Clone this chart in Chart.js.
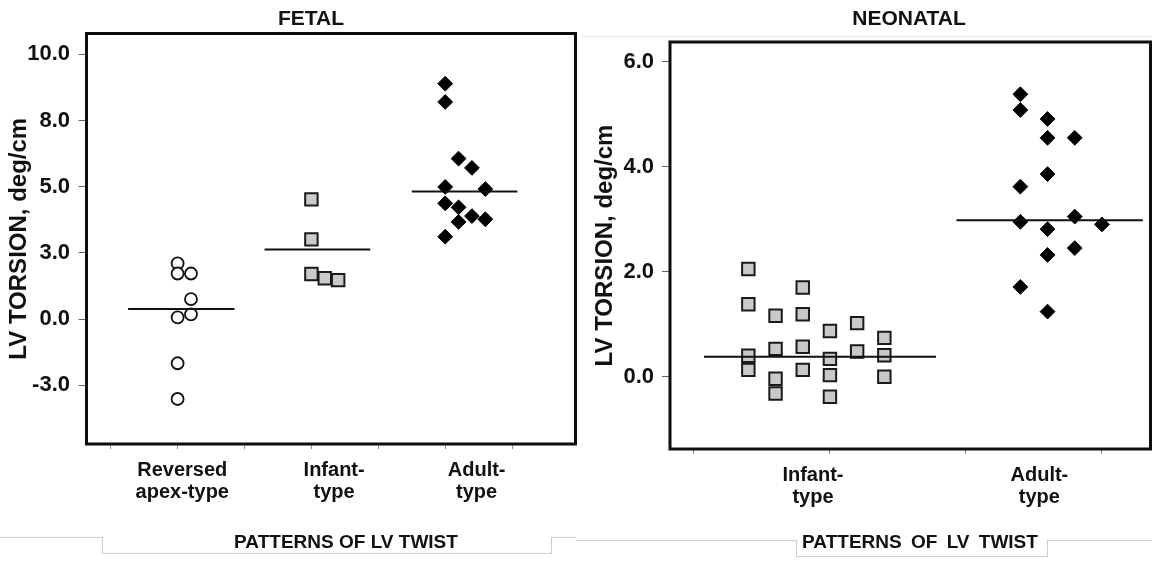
<!DOCTYPE html>
<html>
<head>
<meta charset="utf-8">
<title>LV torsion - fetal vs neonatal</title>
<script src="https://cdn.jsdelivr.net/npm/chart.js@4.4.1/dist/chart.umd.min.js"></script>
<style>
  body { margin: 0; background: #fff; font-family: 'Liberation Sans', Arial, sans-serif; color: #111; }
  #page { position: relative; width: 1152px; height: 563px; overflow: hidden; }
  canvas { position: absolute; top: 0; }
  .panel-title, .axis-note { position: absolute; width: 300px; text-align: center; font-weight: bold; line-height: 1; white-space: nowrap; }
  .panel-title { font-size: 21px; top: 7px; }
  .axis-note { font-size: 19px; top: 532px; }
  .rule { position: absolute; border: 0 solid #cdcdcd; }
</style>
</head>
<body>
<div id="page">
  <!-- faint frame pieces around the x titles -->
  <div class="rule" style="left:582px; top:36px; width:570px; border-top-width:1px; border-color:#e2e2e2;"></div>
  <div class="rule" style="left:0; top:537px; width:102px; border-top-width:1px;"></div>
  <div class="rule" style="left:102px; top:537px; width:448px; height:16px; border-width:0 1px 1px 1px;"></div>
  <div class="rule" style="left:551px; top:537px; width:25px; border-top-width:1px;"></div>
  <div class="rule" style="left:576px; top:540px; width:220px; border-top-width:1px;"></div>
  <div class="rule" style="left:796px; top:540px; width:250px; height:16px; border-width:0 1px 1px 1px;"></div>
  <div class="rule" style="left:1047px; top:540px; width:105px; border-top-width:1px;"></div>

  <canvas id="fetal" width="580" height="563" style="left:0;"></canvas>
  <canvas id="neonatal" width="572" height="563" style="left:580px;"></canvas>

  <div class="panel-title" style="left:161px;">FETAL</div>
  <div class="panel-title" style="left:759px;">NEONATAL</div>
  <div class="axis-note" style="left:196px;">PATTERNS OF LV TWIST</div>
  <div class="axis-note" style="left:770px; word-spacing:4px;">PATTERNS OF LV TWIST</div>
</div>

<script>
const FONT = "'Liberation Sans', Arial, sans-serif";

// ---- FETAL ----
const fetalCategories = [['Reversed', 'apex-type'], ['Infant-', 'type'], ['Adult-', 'type']];
const fetalCategoryPos = [1.07, 3.34, 5.47];
const fetalXTicks = [0, 1, 2, 3, 4, 5, 6];
const fetalYTicks = [-2.5, 0, 2.5, 5, 7.5, 10];
const fetalYLabels = ['-3.0', '0.0', '3.0', '5.0', '8.0', '10.0'];

const fetalReversedX = [1, 1, 1.2, 1.2, 1, 1.2, 1, 1];
const fetalReversedY = [2.10, 1.72, 1.72, 0.75, 0.06, 0.18, -1.67, -3.02];
const fetalInfantX = [3, 3, 3, 3.2, 3.4];
const fetalInfantY = [4.52, 3.01, 1.70, 1.54, 1.47];
const fetalAdultX = [5, 5, 5.2, 5.4, 5, 5.6, 5, 5.2, 5.4, 5.6, 5.2, 5];
const fetalAdultY = [8.89, 8.20, 6.06, 5.71, 4.99, 4.91, 4.37, 4.22, 3.89, 3.77, 3.67, 3.11];

const fetalMedians = [0.38, 2.63, 4.82];
const fetalMedianFrom = [0.26, 2.30, 4.50];
const fetalMedianTo = [1.85, 3.88, 6.08];

// ---- NEONATAL ----
const neoCategories = [['Infant-', 'type'], ['Adult-', 'type']];
const neoCategoryPos = [0.875, 2.54];
const neoXTicks = [0, 1, 2, 3];
const neoYTicks = [0, 2, 4, 6];
const neoYLabels = ['0.0', '2.0', '4.0', '6.0'];

const neoInfantX = [0.4, 0.4, 0.4, 0.4, 0.6, 0.6, 0.6, 0.6, 0.8, 0.8, 0.8, 0.8, 1.0, 1.0, 1.0, 1.0, 1.2, 1.2, 1.4, 1.4, 1.4];
const neoInfantY = [2.05, 1.38, 0.40, 0.13, 1.16, 0.53, -0.04, -0.32, 1.70, 1.19, 0.57, 0.13, 0.87, 0.34, 0.03, -0.38, 1.02, 0.48, 0.74, 0.41, 0.00];
const neoAdultX = [2.4, 2.4, 2.4, 2.4, 2.4, 2.6, 2.6, 2.6, 2.6, 2.6, 2.6, 2.8, 2.8, 2.8, 3.0];
const neoAdultY = [5.38, 5.08, 3.62, 2.95, 1.71, 4.91, 4.55, 3.86, 2.81, 2.32, 1.24, 4.55, 3.05, 2.45, 2.90];

const neoMedians = [0.38, 2.98];
const neoMedianFrom = [0.074, 1.93];
const neoMedianTo = [1.78, 3.30];

const markers = {
  circle: { pointStyle: 'circle', pointRadius: 6, pointBackgroundColor: '#fff', pointBorderColor: '#111', pointBorderWidth: 1.8 },
  square: { pointStyle: 'rect', pointRadius: 8.8, pointBackgroundColor: '#c9c9c9', pointBorderColor: '#1a1a1a', pointBorderWidth: 2 },
  diamond: { pointStyle: 'rectRot', pointRadius: 7.4, pointBackgroundColor: '#000', pointBorderColor: '#000', pointBorderWidth: 1 }
};

const boxFrame = {
  id: 'boxFrame',
  afterDraw(chart) {
    const { ctx, chartArea: a } = chart;
    ctx.save();
    ctx.strokeStyle = '#0d0d0d';
    ctx.lineWidth = 3;
    ctx.strokeRect(a.left, a.top, a.right - a.left, a.bottom - a.top);
    ctx.restore();
  }
};

const toPoints = (xs, ys) => xs.map((x, i) => ({ x, y: ys[i] }));

function makePanel(id, p) {
  // median bars first so they sit on top of the markers
  const medianSets = p.medians.map((m, i) => ({
    data: [{ x: p.medianFrom[i], y: m }, { x: p.medianTo[i], y: m }],
    showLine: true,
    borderColor: '#111',
    borderWidth: 2,
    pointRadius: 0
  }));
  const groupSets = p.groups.map(g => ({ data: toPoints(g.x, g.y), showLine: false, ...markers[g.marker] }));

  new Chart(document.getElementById(id), {
    type: 'scatter',
    data: { datasets: [...medianSets, ...groupSets] },
    plugins: [boxFrame],
    options: {
      responsive: false,
      animation: false,
      events: [],
      layout: { autoPadding: false, padding: { top: p.padTop, right: p.padRight, left: 0, bottom: 0 } },
      plugins: { legend: { display: false }, tooltip: { enabled: false } },
      scales: {
        x: {
          type: 'linear',
          min: p.xMin,
          max: p.xMax,
          afterBuildTicks: axis => {
            axis.ticks = [...p.xTicks, ...p.catPos].sort((a, b) => a - b).map(v => ({ value: v }));
          },
          afterFit: s => {
            s.height = p.xAxisHeight;
            s.paddingLeft = 0;
            s.paddingRight = 0;
          },
          grid: {
            drawOnChartArea: false,
            tickLength: 5,
            color: c => (c.tick && p.catPos.includes(c.tick.value)) ? 'rgba(0,0,0,0)' : '#8a8a8a'
          },
          border: { display: false },
          ticks: {
            autoSkip: false,
            maxRotation: 0,
            padding: 10,
            color: '#111',
            font: { family: FONT, size: 20, weight: 'bold', lineHeight: 1.12 },
            callback: v => {
              const i = p.catPos.indexOf(v);
              return i < 0 ? '' : p.cats[i];
            }
          }
        },
        y: {
          type: 'linear',
          min: p.yMin,
          max: p.yMax,
          afterBuildTicks: axis => { axis.ticks = p.yTicks.map(v => ({ value: v })); },
          afterFit: s => {
            s.width = p.yAxisWidth;
            s.paddingTop = 0;
            s.paddingBottom = 0;
          },
          grid: { drawOnChartArea: false, tickLength: 8, color: '#666' },
          border: { display: false },
          ticks: {
            padding: p.yTickPad,
            color: '#111',
            font: { family: FONT, size: 22, weight: 'bold' },
            callback: v => p.yLabels[p.yTicks.indexOf(v)]
          },
          title: {
            display: true,
            text: 'LV TORSION, deg/cm',
            color: '#111',
            font: { family: FONT, size: 24, weight: 'bold' },
            padding: { top: p.yTitlePad, bottom: 0 }
          }
        }
      }
    }
  });
}

makePanel('fetal', {
  groups: [
    { x: fetalReversedX, y: fetalReversedY, marker: 'circle' },
    { x: fetalInfantX, y: fetalInfantY, marker: 'square' },
    { x: fetalAdultX, y: fetalAdultY, marker: 'diamond' }
  ],
  medians: fetalMedians, medianFrom: fetalMedianFrom, medianTo: fetalMedianTo,
  cats: fetalCategories, catPos: fetalCategoryPos, xTicks: fetalXTicks,
  yTicks: fetalYTicks, yLabels: fetalYLabels,
  xMin: -0.362, xMax: 6.948, yMin: -4.72, yMax: 10.786,
  padTop: 33.5, padRight: 4.5, yAxisWidth: 86.5, xAxisHeight: 119,
  yTickPad: 8.5, yTitlePad: 4.6
});

makePanel('neonatal', {
  groups: [
    { x: neoInfantX, y: neoInfantY, marker: 'square' },
    { x: neoAdultX, y: neoAdultY, marker: 'diamond' }
  ],
  medians: neoMedians, medianFrom: neoMedianFrom, medianTo: neoMedianTo,
  cats: neoCategories, catPos: neoCategoryPos, xTicks: neoXTicks,
  yTicks: neoYTicks, yLabels: neoYLabels,
  xMin: -0.176, xMax: 3.357, yMin: -1.377, yMax: 6.375,
  padTop: 42, padRight: 1.5, yAxisWidth: 90, xAxisHeight: 114,
  yTickPad: 8, yTitlePad: 10.6
});
</script>
</body>
</html>
